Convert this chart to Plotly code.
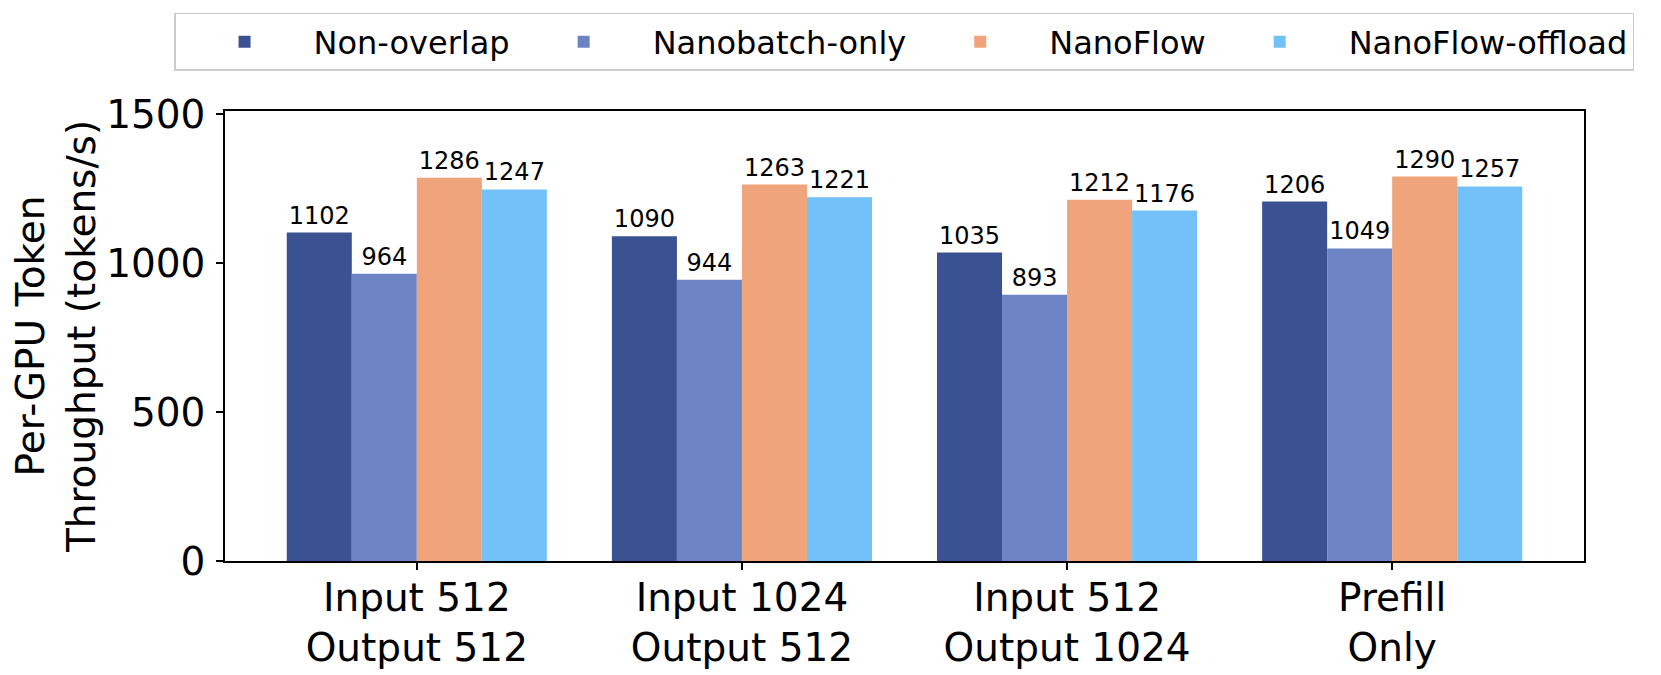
import plotly.graph_objects as go

categories = ["Input 512<br>Output 512", "Input 1024<br>Output 512",
              "Input 512<br>Output 1024", "Prefill<br>Only"]
series_names = ["Non-overlap", "Nanobatch-only", "NanoFlow", "NanoFlow-offload"]
non_overlap = [1102, 1090, 1035, 1206]
nanobatch_only = [964, 944, 893, 1049]
nanoflow = [1286, 1263, 1212, 1290]
nanoflow_offload = [1247, 1221, 1176, 1257]
y_ticks = [0, 500, 1000, 1500]

colors = ["#3A5192", "#6C83C4", "#F0A47B", "#72C1F9"]
series_values = [non_overlap, nanobatch_only, nanoflow, nanoflow_offload]

FONT = "DejaVu Sans"
fig = go.Figure()
for name, vals, col in zip(series_names, series_values, colors):
    fig.add_trace(go.Bar(
        x=categories, y=vals, name=name,
        marker=dict(color=col, line=dict(width=0)),
        text=[str(v) for v in vals], textposition="outside",
        textfont=dict(size=24, color="black", family=FONT),
        constraintext="none", cliponaxis=False,
    ))

fig.update_layout(
    width=1653, height=667,
    barmode="group", bargap=0.2, bargroupgap=0,
    plot_bgcolor="white", paper_bgcolor="white",
    margin=dict(l=217, r=77, t=103, b=114, autoexpand=False),
    font=dict(family=FONT, color="black"),
    legend=dict(
        orientation="h", xref="paper", yref="paper",
        x=-0.0375, xanchor="left", y=1.218, yanchor="top",
        font=dict(size=32, family=FONT),
        bordercolor="#cccccc", borderwidth=1.5, bgcolor="white",
        itemwidth=128, traceorder="normal",
    ),
    showlegend=True,
)
fig.update_xaxes(
    range=[-0.59, 3.59], showline=True, linecolor="black", linewidth=1.5,
    mirror=True, ticks="outside", ticklen=7, tickwidth=1.5, tickcolor="black",
    tickfont=dict(size=39, family=FONT), showgrid=False, ticklabelstandoff=-6,
)
fig.update_yaxes(
    range=[0, 1510], tickvals=y_ticks, showline=True, linecolor="black",
    linewidth=1.5, mirror=True, ticks="outside", ticklen=7, tickwidth=1.5,
    tickcolor="black", tickfont=dict(size=39, family=FONT), showgrid=False,
    zeroline=False, ticklabelstandoff=3,
    title=dict(text="Per-GPU Token<br>Throughput (tokens/s)",
               font=dict(size=39, family=FONT), standoff=17),
)
fig.write_html("out.html")
